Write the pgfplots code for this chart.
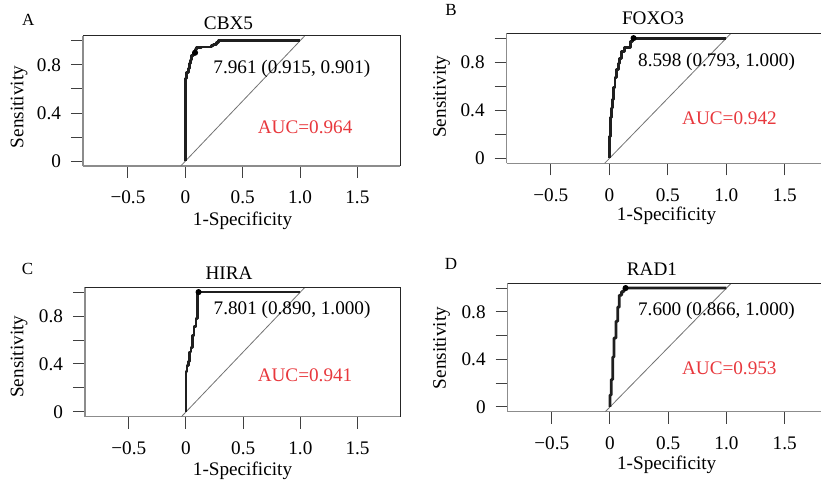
\documentclass[border=0pt]{standalone}
\usepackage{fontspec}
\setmainfont{Liberation Serif}
\usepackage{pgfplots}
\pgfplotsset{compat=1.18}
\definecolor{aucred}{HTML}{E8383D}
\definecolor{framegray}{HTML}{8C8C8C}
\newcommand\pfont{\fontsize{9.6}{11.5}\selectfont}

\pgfplotsset{
  rocpanel/.style={
    scale only axis, anchor=south west,
    ymin=-0.04, ymax=1.04,
    axis lines=left, axis line style={-, framegray, line width=0.6pt},
    xtick={-0.5,0,0.5,1,1.5}, xticklabels={−0.5,0,0.5,1.0,1.5},
    ytick={0,0.2,0.4,0.6,0.8,1}, yticklabels={0,,0.4,,0.8,},
    tick align=outside, major tick length=6pt,
    tick style={black!75, line width=0.5pt},
    ticklabel style={font=\pfont},
    xticklabel style={yshift=-3pt},
    yticklabel style={xshift=-1.5pt},
    clip mode=individual,
  },
  roc/.style={black!88, line width=1.4pt, line join=round},
  diag/.style={black!55, line width=0.4pt},
}

\begin{document}
\begin{tikzpicture}[x=0.5pt, y=0.5pt]
% ---- A: CBX5
\begin{axis}[rocpanel, at={(41.5pt,158pt)}, width=158.75pt, height=65pt,
  xmin=-0.892, xmax=1.876]
  \addplot[diag] coordinates {(-0.04,-0.04) (1.04,1.04)};
  \addplot[roc] coordinates {
    (0,0) (0,0.687) (0.012,0.687) (0.012,0.734) (0.026,0.734) (0.026,0.77)
    (0.035,0.77) (0.035,0.81) (0.047,0.81) (0.047,0.84) (0.056,0.84) (0.056,0.88)
    (0.07,0.88) (0.07,0.901) (0.085,0.901) (0.085,0.927) (0.099,0.927) (0.099,0.942)
    (0.142,0.942) (0.142,0.949) (0.23,0.949) (0.23,0.96) (0.244,0.96) (0.244,0.971)
    (0.273,0.971) (0.273,0.985) (0.288,0.985) (0.288,1) (1,1)};
  \addplot[only marks, mark=*, mark size=1.3pt, black] coordinates {(0.085,0.901)};
  \draw[black!85, line width=0.5pt] (rel axis cs:0,1) -- (rel axis cs:1,1) -- (rel axis cs:1,0);
  \node[anchor=west, inner sep=0pt, font=\pfont] at (axis cs:0.242,0.77) {7.961 (0.915, 0.901)};
  \node[anchor=west, inner sep=0pt, font=\pfont, text=aucred] at (axis cs:0.629,0.284) {AUC=0.964};
\end{axis}
% ---- B: FOXO3
\begin{axis}[rocpanel, at={(253.35pt,159.35pt)}, width=161.3pt, height=65pt,
  xmin=-0.877, xmax=1.88]
  \addplot[diag] coordinates {(-0.04,-0.04) (1.04,1.04)};
  \addplot[roc] coordinates {
    (0,0) (0,0.185) (0.008,0.185) (0.008,0.34) (0.02,0.34) (0.02,0.42)
    (0.026,0.42) (0.026,0.49) (0.037,0.49) (0.037,0.59) (0.048,0.59) (0.048,0.67)
    (0.062,0.67) (0.062,0.74) (0.076,0.74) (0.076,0.79) (0.09,0.79) (0.09,0.83)
    (0.105,0.83) (0.105,0.89) (0.133,0.89) (0.133,0.92) (0.184,0.92) (0.184,0.97)
    (0.195,0.97) (0.195,1) (1,1)};
  \addplot[only marks, mark=*, mark size=1.3pt, black] coordinates {(0.207,1)};
  \draw[black!85, line width=0.5pt] (rel axis cs:0,1) -- (rel axis cs:1,1) -- (rel axis cs:1,0);
  \node[anchor=west, inner sep=0pt, font=\pfont] at (axis cs:0.243,0.805) {8.598 (0.793, 1.000)};
  \node[anchor=west, inner sep=0pt, font=\pfont, text=aucred] at (axis cs:0.619,0.338) {AUC=0.942};
\end{axis}
% ---- C: HIRA
\begin{axis}[rocpanel, at={(42.5pt,32.65pt)}, width=158pt, height=64.7pt,
  xmin=-0.883, xmax=1.880]
  \addplot[diag] coordinates {(-0.04,-0.04) (1.04,1.04)};
  \addplot[roc] coordinates {
    (0,0) (0,0.335) (0.009,0.335) (0.009,0.39) (0.02,0.39) (0.02,0.42)
    (0.03,0.42) (0.03,0.5) (0.043,0.5) (0.043,0.54) (0.058,0.54) (0.058,0.64)
    (0.07,0.64) (0.07,0.71) (0.087,0.71) (0.087,0.78) (0.104,0.78) (0.104,1) (1,1)};
  \addplot[only marks, mark=*, mark size=1.3pt, black] coordinates {(0.11,1)};
  \draw[black!85, line width=0.5pt] (rel axis cs:0,1) -- (rel axis cs:1,1) -- (rel axis cs:1,0);
  \node[anchor=west, inner sep=0pt, font=\pfont] at (axis cs:0.239,0.851) {7.801 (0.890, 1.000)};
  \node[anchor=west, inner sep=0pt, font=\pfont, text=aucred] at (axis cs:0.624,0.309) {AUC=0.941};
\end{axis}
% ---- D: RAD1
\begin{axis}[rocpanel, at={(253.85pt,35.15pt)}, width=160.65pt, height=64.2pt,
  xmin=-0.878, xmax=1.88]
  \addplot[diag] coordinates {(-0.04,-0.04) (1.04,1.04)};
  \addplot[roc] coordinates {
    (0,0) (0,0.1) (0.011,0.1) (0.011,0.23) (0.023,0.23) (0.023,0.42)
    (0.034,0.42) (0.034,0.58) (0.051,0.58) (0.051,0.72) (0.066,0.72) (0.066,0.84)
    (0.08,0.84) (0.08,0.94) (0.1,0.94) (0.1,0.97) (0.12,0.97) (0.12,0.995)
    (0.134,1) (1,1)};
  \addplot[only marks, mark=*, mark size=1.3pt, black] coordinates {(0.134,1)};
  \draw[black!85, line width=0.5pt] (rel axis cs:0,1) -- (rel axis cs:1,1) -- (rel axis cs:1,0);
  \node[anchor=west, inner sep=0pt, font=\pfont] at (axis cs:0.238,0.807) {7.600 (0.866, 1.000)};
  \node[anchor=west, inner sep=0pt, font=\pfont, text=aucred] at (axis cs:0.615,0.323) {AUC=0.953};
\end{axis}
% ---- titles, panel letters, axis labels
\begin{scope}[every node/.style={font=\pfont, inner sep=0pt}]
  \node at (228.5,458.5) {CBX5};
  \node at (653,463.5) {FOXO3};
  \node at (229,208.5) {HIRA};
  \node at (652,213) {RAD1};
  \node[font=\fontsize{8.5}{10}\selectfont] at (28.3,462) {A};
  \node[font=\fontsize{8.5}{10}\selectfont] at (451,472) {B};
  \node[font=\fontsize{8.5}{10}\selectfont] at (27.5,213) {C};
  \node[font=\fontsize{8.5}{10}\selectfont] at (451,218) {D};
  \node at (242.5,261) {1-Specificity};
  \node at (666.5,266) {1-Specificity};
  \node at (242.5,11) {1-Specificity};
  \node at (666.7,17) {1-Specificity};
  \node[rotate=90] at (19,375) {Sensitivity};
  \node[rotate=90] at (441.7,385.3) {Sensitivity};
  \node[rotate=90] at (19,125.3) {Sensitivity};
  \node[rotate=90] at (441.7,134) {Sensitivity};
\end{scope}
\pgfresetboundingbox
\useasboundingbox (0,0) rectangle (821,482);
\end{tikzpicture}
\end{document}
